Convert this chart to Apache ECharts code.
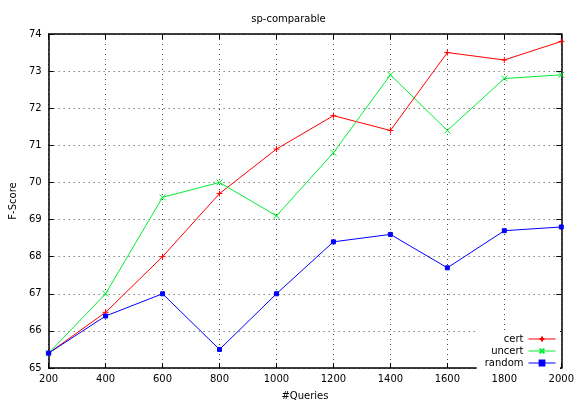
<!DOCTYPE html>
<html><head><meta charset="utf-8">
<script src="https://cdn.jsdelivr.net/npm/echarts@6/dist/echarts.min.js"></script>
<style>html,body{margin:0;padding:0;background:#fff}#c{width:577px;height:406px}</style>
</head><body><div id="c"></div>
<script>
const queries = [200,400,600,800,1000,1200,1400,1600,1800,2000];
const cert   = [65.4,66.5,68.0,69.7,70.9,71.8,71.4,73.5,73.3,73.8];
const uncert = [65.4,67.0,69.6,70.0,69.1,70.8,72.9,71.4,72.8,72.9];
const random = [65.4,66.4,67.0,65.5,67.0,68.4,68.6,67.7,68.7,68.8];
const seriesNames = ['cert','uncert','random'];
const colors = ['#ff0000','#00ee33','#0000ff'];
const symbols = [
  'path://M5,0L5,10M0,5L10,5',
  'path://M0,0L10,10M10,0L0,10',
  'path://M0,0L10,0L10,10L0,10Z'
];
const font = 'DejaVu Sans';
const pairs = d => queries.map((q,i)=>[q,d[i]]);
const dataSets = [cert,uncert,random];
const chart = echarts.init(document.getElementById('c'));
const grid = {left:46,right:11,top:34,bottom:35};
const splitDots = {show:true,lineStyle:{color:'#444',type:[1,4],width:1}};
chart.setOption({
  animation:false,
  title:{text:'sp-comparable',left:'center',top:9,textStyle:{fontFamily:font,fontSize:10,fontWeight:'normal',color:'#000'}},
  grid:grid,
  legend:{orient:'vertical',right:17,bottom:37,padding:[3,4,1,8],backgroundColor:'#fff',align:'right',itemGap:2,itemWidth:27,itemHeight:6,
    lineStyle:{width:1},
    textStyle:{fontFamily:font,fontSize:10,lineHeight:10,color:'#000'},data:seriesNames},
  xAxis:[{type:'value',min:200,max:2000,interval:200,name:'#Queries',nameLocation:'middle',nameGap:23,
    nameTextStyle:{fontFamily:font,fontSize:10,color:'#000'},
    axisLine:{show:true,onZero:false,lineStyle:{color:'#000',width:1.5}},
    axisTick:{show:true,inside:true,length:5,lineStyle:{color:'#000'}},
    axisLabel:{fontFamily:font,fontSize:10,color:'#000',margin:6,formatter:v=>String(v)},
    splitLine:splitDots},
   {type:'value',position:'top',min:200,max:2000,interval:200,
    axisLine:{show:true,onZero:false,lineStyle:{color:'#000',width:1.5}},
    axisTick:{show:true,inside:true,length:5,lineStyle:{color:'#000'}},
    axisLabel:{show:false},splitLine:{show:false}}],
  yAxis:[{type:'value',min:65,max:74,interval:1,name:'F-Score',nameLocation:'middle',nameGap:30,nameRotate:90,
    nameTextStyle:{fontFamily:font,fontSize:10,color:'#000'},
    axisLine:{show:true,onZero:false,lineStyle:{color:'#000',width:1.5}},
    axisTick:{show:true,inside:true,length:5,lineStyle:{color:'#000'}},
    axisLabel:{fontFamily:font,fontSize:10,color:'#000',margin:7},
    splitLine:splitDots},
   {type:'value',position:'right',min:65,max:74,interval:1,
    axisLine:{show:true,onZero:false,lineStyle:{color:'#000',width:1.5}},
    axisTick:{show:true,inside:true,length:5,lineStyle:{color:'#000'}},
    axisLabel:{show:false},splitLine:{show:false}}],
  series:seriesNames.map((n,i)=>({
    name:n,type:'line',data:pairs(dataSets[i]),
    symbol:symbols[i],symbolSize:i===2?4:6,showSymbol:true,
    lineStyle:{color:colors[i],width:1},
    itemStyle:{color:i===2?colors[i]:'rgba(0,0,0,0)',borderColor:colors[i],borderWidth:1}
  }))
});
</script></body></html>
